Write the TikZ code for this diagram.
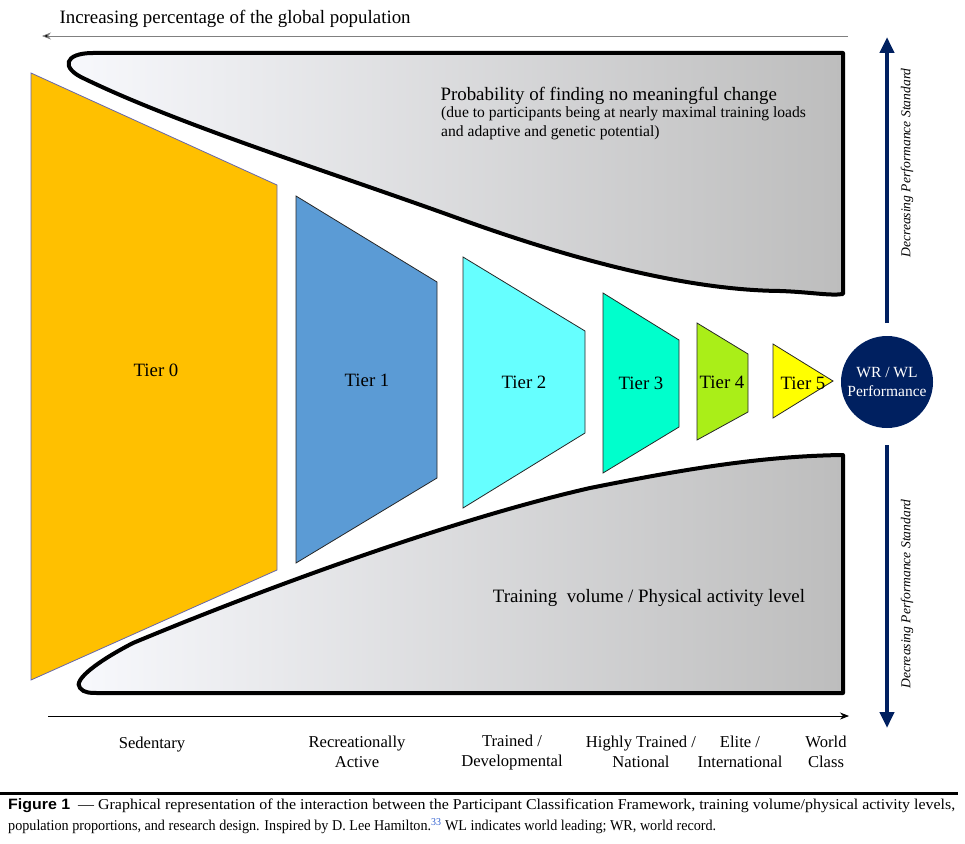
\documentclass[tikz,border=0pt]{standalone}
\usepackage{graphicx}
\usepackage{fontspec}
\setmainfont{Liberation Serif}
\newfontfamily\capsans{Liberation Sans}
\usetikzlibrary{arrows.meta}
\definecolor{tierA}{HTML}{FFC000}
\definecolor{tierB}{HTML}{5B9BD5}
\definecolor{tierC}{HTML}{66FFFF}
\definecolor{tierD}{HTML}{00FFCC}
\definecolor{tierE}{HTML}{AAEE18}
\definecolor{tierF}{HTML}{FFFF00}
\definecolor{navy}{HTML}{002060}
\definecolor{shL}{HTML}{F8F9FD}
\definecolor{shR}{HTML}{BDBDBD}
\definecolor{linkblue}{HTML}{2F5FD0}
\tikzset{
  band/.style={line width=4, line join=round, left color=shL, right color=shR, draw=black},
  tierbox/.style={draw=black!85, line width=0.8, line join=miter},
  big/.style={font=\fontsize{18.9}{22}\selectfont},
  small/.style={font=\fontsize{15.6}{19.5}\selectfont, align=left},
  tierlbl/.style={font=\fontsize{18.8}{21}\selectfont},
  axislbl/.style={font=\fontsize{16.6}{20}\selectfont, align=center},
  navyarrow/.style={draw=navy, line width=4, -{Triangle[length=16,width=14]}},
  thinarrow/.style={line width=0.8, -{Stealth[length=9,width=7]}},
  vlabel/.style={rotate=90, font=\itshape\fontsize{13.6}{17}\selectfont}
}
\begin{document}
\begin{tikzpicture}[x=1pt,y=-1pt]
\useasboundingbox (0,0) rectangle (965,843);

% top arrow
\coordinate (topS) at (848,36);
\coordinate (topE) at (42,36);
\draw[thinarrow, draw=black!50, -{Stealth[length=9,width=7,fill=black]}] (topS) -- (topE);
\node[big, anchor=west] (toptxt) at (56,19) {Increasing percentage of the global population};

% upper band
\path[band] (843,53) -- (93,53) .. controls (64,53) and (60,68) .. (85,79)
  .. controls (180,125) and (330,172) .. (460,219)
  .. controls (560,255) and (680,290) .. (780,291)
  .. controls (810,292) and (830,296) .. (843,294) -- cycle;

% lower band
\path[band] (843,455) .. controls (760,456) and (680,470) .. (590,488)
  .. controls (450,520) and (260,590) .. (133,643)
  .. controls (100,660) and (72,680) .. (80,688)
  .. controls (84,693) and (90,693) .. (100,693) -- (843,693) -- cycle;

\node[big, anchor=west] (probtxt) at (437,96) {Probability of finding no meaningful change};
\node[small, anchor=north west, inner sep=0] (probsub) at (441,106) {(due to participants being at nearly maximal training loads\\and adaptive and genetic potential)};
\node[big] (trainvol) at (649,598) {Training\ \ volume / Physical activity level};

% tiers
\draw[tierbox, draw=black!55!blue!60, fill=tierA] (31,73) -- (277,185) -- (277,570) -- (31,680) -- cycle;
\draw[tierbox, fill=tierB] (296,196) -- (437,282) -- (437,478) -- (296,563) -- cycle;
\draw[tierbox, fill=tierC] (463,257) -- (585,331) -- (585,433) -- (463,508) -- cycle;
\draw[tierbox, fill=tierD] (603,293) -- (679,340) -- (679,427) -- (603,473) -- cycle;
\draw[tierbox, fill=tierE] (697,323) -- (748,354) -- (748,412) -- (697,440) -- cycle;
\draw[tierbox, fill=tierF] (773,344) -- (833,381) -- (773,418) -- cycle;

\node[tierlbl] (t0) at (156,370) {Tier 0};
\node[tierlbl] (t1) at (367,380) {Tier 1};
\node[tierlbl] (t2) at (524,382) {Tier 2};
\node[tierlbl] (t3) at (641,383) {Tier 3};
\node[tierlbl] (t4) at (722,382) {Tier 4};
\node[tierlbl] (t5) at (803,383) {Tier 5};

% WR circle
\node[circle, fill=navy, minimum size=92, inner sep=0, text=white, align=center,
      font=\fontsize{15.5}{19}\selectfont] (wr) at (887,382) {WR / WL\\Performance};

\coordinate (upS) at (887,323);
\coordinate (upE) at (887,37);
\coordinate (dnS) at (887,445);
\coordinate (dnE) at (887,728);
\draw[navyarrow] (upS) -- (upE);
\draw[navyarrow] (dnS) -- (dnE);
\node[vlabel] (vtop) at (907,163) {Decreasing Performance Standard};
\node[vlabel] (vbot) at (907,594) {Decreasing Performance Standard};

% bottom axis
\coordinate (axS) at (48,716);
\coordinate (axE) at (849,716);
\draw[thinarrow] (axS) -- (axE);

\node[axislbl] (sed) at (152,745) {Sedentary};
\node[axislbl] (rec) at (357,752) {Recreationally\\Active};
\node[axislbl] (trn) at (512,752) {Trained /\\Developmental};
\node[axislbl] (hig) at (641,752) {Highly Trained /\\National};
\node[axislbl] (eli) at (740,752) {Elite /\\International};
\node[axislbl] (wcl) at (826,752) {World\\Class};

% caption
\coordinate (ruleS) at (0,793);
\coordinate (ruleE) at (958,793);
\draw[line width=3] (ruleS) -- (ruleE);
\node[anchor=west, inner sep=0, font=\fontsize{15}{18}\selectfont] (cap1) at (8,806)
  {\resizebox{947pt}{\height}{{\capsans\bfseries Figure 1}\ \ --- Graphical representation of the interaction between the Participant Classification Framework, training volume/physical activity levels,}};
\node[anchor=west, inner sep=0, font=\fontsize{15}{18}\selectfont] (cap2) at (8,826)
  {\resizebox{708pt}{\height}{population proportions, and research design. Inspired by D. Lee Hamilton.\textcolor{linkblue}{\textsuperscript{33}} WL indicates world leading; WR, world record.}};
\end{tikzpicture}
\end{document}
